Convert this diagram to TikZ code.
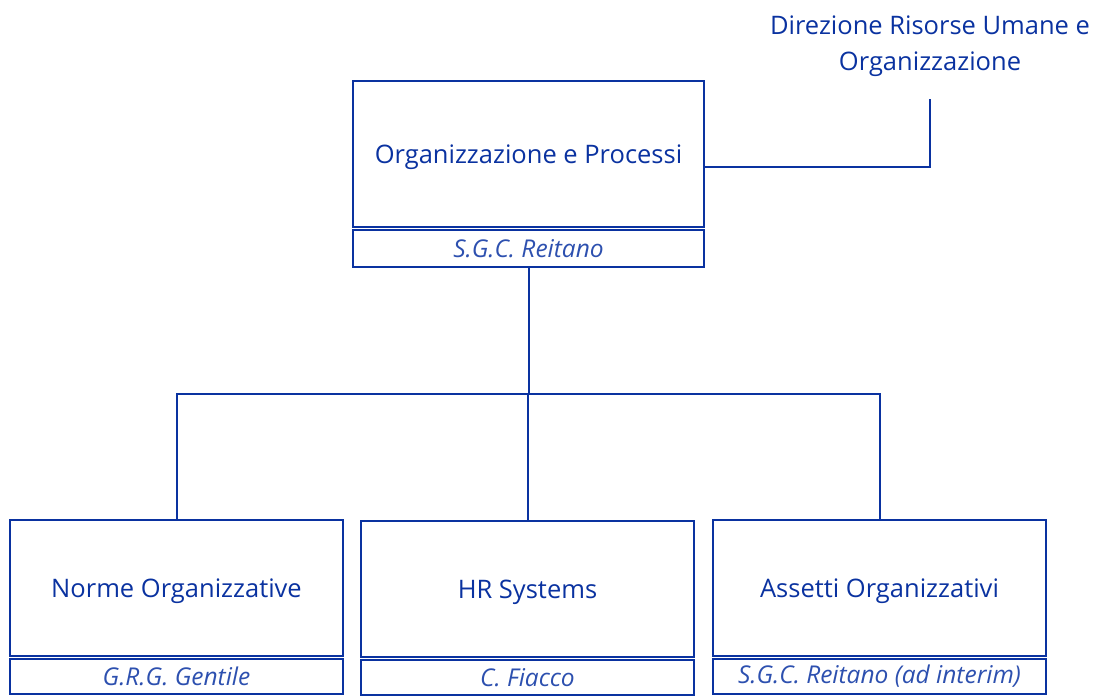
\documentclass[tikz,border=0pt]{standalone}
\usepackage{fontspec}
\setmainfont{Open Sans}
\usepackage{tikz}
\usetikzlibrary{positioning}
\definecolor{orgblue}{RGB}{10,50,160}
\definecolor{nameblue}{RGB}{45,80,175}

\begin{document}
\begin{tikzpicture}[x=1pt, y=-1pt,
	unitbox/.style={draw=orgblue, line width=2pt, minimum width=351pt, minimum height=146pt, inner sep=0pt, text depth=0pt, font=\fontsize{25.5}{30}\selectfont, text=orgblue},
	subbox/.style={unitbox, minimum width=333pt, minimum height=136pt},
	namebox/.style={draw=orgblue, line width=2pt, minimum height=35pt, inner sep=0pt, font=\fontsize{24.5}{28}\selectfont\itshape, text=nameblue},
	link/.style={draw=orgblue, line width=2pt}]
	\useasboundingbox (0,0) rectangle (1104,699);
	% top unit
	\node[unitbox, anchor=north west] (op) at (352,80) {Organizzazione e Processi};
	\node[namebox, minimum width=351pt, minimum height=37pt, anchor=north] (opname) at ([yshift=-1pt]op.south) {S.G.C. Reitano};
	\node[align=center, font=\fontsize{25.5}{36}\selectfont, text=orgblue, inner sep=0pt] (dir) at (930,46) {Direzione Risorse Umane e\\Organizzazione};
	\coordinate (dirfoot) at (930,99);
	\draw[link] (op.east |- 0,167) -| (dirfoot);
	% bottom units
	\node[subbox, anchor=north west] (no) at (9,519) {Norme Organizzative};
	\node[subbox, anchor=north west] (hr) at (360,520) {HR Systems};
	\node[subbox, anchor=north west] (ao) at (712,519) {Assetti Organizzativi};
	\foreach \u/\who in {no/{G.R.G. Gentile}, hr/{C. Fiacco}, ao/{S.G.C. Reitano (ad interim)}} {
		\node[namebox, minimum width=333pt, anchor=north] (\u name) at ([yshift=-1pt]\u.south) {\who};
	}
	\coordinate (bus) at (527,394);
	\draw[link] (opname.south) -- (opname.south |- bus);
	\draw[link] (no.north) |- (bus) -| (ao.north);
	\draw[link] (hr.north) -- (hr.north |- bus);
\end{tikzpicture}
\end{document}
